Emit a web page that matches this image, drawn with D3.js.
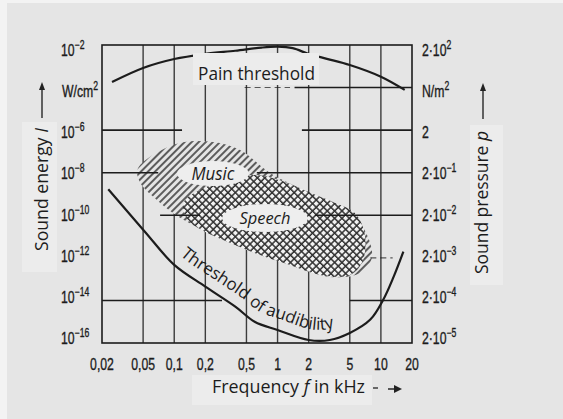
<!DOCTYPE html>
<html><head><meta charset="utf-8">
<script src="https://cdn.jsdelivr.net/npm/d3@7"></script>
<style>
html,body{margin:0;padding:0;background:#f3f3f3;}
svg{display:block;}
</style></head><body>
<svg id="c" width="563" height="419"></svg>
<script>
// ---------- data ----------
const freqTicks  = [0.02, 0.05, 0.1, 0.2, 0.5, 1, 2, 5, 10, 20];
const freqLabels = ["0,02","0,05","0,1","0,2","0,5","1","2","5","10","20"];
const energyExp  = [-2, -4, -6, -8, -10, -12, -14, -16];           // log10 of W/cm²
const leftBase   = ["10","W/cm","10","10","10","10","10","10"];
const leftSup    = ["\u22122","2","\u22126","\u22128","\u221210","\u221212","\u221214","\u221216"];
const rightBase  = ["2\u00b710","N/m","2","2\u00b710","2\u00b710","2\u00b710","2\u00b710","2\u00b710"];
const rightSup   = ["2","2","","\u22121","\u22122","\u22123","\u22124","\u22125"];

// pain threshold: frequency (kHz) and log10 sound energy (W/cm²)
const painFreq = [0.025, 0.05, 0.1, 0.2, 0.39, 0.7, 1.0, 1.4, 2, 3, 5, 10, 17];
const painExp  = [-3.74, -3.08, -2.66, -2.42, -2.27, -2.12, -2.08, -2.15, -2.42, -2.65, -2.94, -3.49, -4.11];

// threshold of audibility
const audFreq = [0.023, 0.052, 0.1, 0.2, 0.39, 0.6, 1.0, 2.0, 3.2, 5, 7.9, 10.5, 13.3, 16.5];
const audExp  = [-8.78, -10.77, -12.33, -13.35, -14.29, -15.0, -15.39, -15.86, -15.86, -15.53, -14.9, -13.98, -12.88, -11.71];

// music area outline
const musicFreq = [0.058, 0.114, 0.237, 0.433, 0.845, 1.54, 2.41, 4.3, 6.7, 8.2, 6.3, 3.2, 1.76, 0.9, 0.54, 0.30, 0.166, 0.097, 0.068, 0.047, 0.044];
const musicExp  = [-7.26, -6.60, -6.56, -6.93, -8.01, -8.67, -9.14, -9.61, -10.55, -11.96, -12.71, -12.9, -12.48, -11.96, -11.40, -11.02, -10.55, -9.89, -9.28, -8.48, -7.87];

// speech area outline
const speechFreq = [0.127, 0.178, 0.31, 0.61, 1.18, 2.0, 3.6, 5.6, 7.0, 6.6, 5.0, 2.58, 1.32, 0.68, 0.35, 0.2, 0.142, 0.122];
const speechExp  = [-9.28, -8.81, -8.34, -8.11, -8.44, -8.91, -9.42, -9.89, -10.93, -12.19, -12.8, -12.8, -12.34, -11.87, -11.30, -10.78, -10.32, -9.75];

// partial horizontal grid segments
const segExp  = [-4, -4, -6, -6, -8, -8, -10, -10, -12, -14, -14];
const segFrom = [0.48, 1.46, 0.02, 1.72, 0.02, 0.63, 0.073, 2.30, 7.9, 0.02, 5.0];
const segTo   = [1.32, 20, 0.119, 20, 0.070, 20, 0.178, 20, 13, 0.29, 20];
const segDash = [true, false, false, false, false, false, false, false, true, false, false];

// ---------- drawing ----------
const BG = "#e5e5e5", LIGHT = "#ececec", INK = "#1c1c1c";
const svg = d3.select("#c");
const x = d3.scaleLog().domain([0.02, 20]).range([102, 412]);
const y = d3.scaleLog().domain([1e-16, 1e-2]).range([343, 45]);
const E = e => Math.pow(10, e);
const ly = d3.scaleLinear().domain([-2, -16]).range([50, 338]);   // label positions

svg.append("rect").attr("x", 7).attr("y", 3).attr("width", 563).attr("height", 419).attr("fill", BG);

const defs = svg.append("defs");
const hatch = defs.append("pattern").attr("id", "hatch").attr("patternUnits", "userSpaceOnUse")
  .attr("width", 5).attr("height", 5).attr("patternTransform", "rotate(45)");
hatch.append("rect").attr("width", 5).attr("height", 5).attr("fill", BG);
hatch.append("line").attr("x1", 1).attr("y1", 0).attr("x2", 1).attr("y2", 5).attr("stroke", "#3a3a3a").attr("stroke-width", 1.6);
const cross = defs.append("pattern").attr("id", "cross").attr("patternUnits", "userSpaceOnUse")
  .attr("width", 5.2).attr("height", 5.2).attr("patternTransform", "rotate(45)");
cross.append("rect").attr("width", 5.2).attr("height", 5.2).attr("fill", "#f2f2f2");
cross.append("line").attr("x1", 1).attr("y1", 0).attr("x2", 1).attr("y2", 5.2).attr("stroke", "#2e2e2e").attr("stroke-width", 1.5);
cross.append("line").attr("x1", 0).attr("y1", 1).attr("x2", 5.2).attr("y2", 1).attr("stroke", "#2e2e2e").attr("stroke-width", 1.5);

// light title backgrounds
svg.append("rect").attr("x", 22).attr("y", 122).attr("width", 35).attr("height", 150).attr("fill", LIGHT);
svg.append("rect").attr("x", 470).attr("y", 125).attr("width", 33).attr("height", 160).attr("fill", LIGHT);
svg.append("rect").attr("x", 192).attr("y", 375).attr("width", 180).attr("height", 30).attr("fill", LIGHT);

// vertical grid
svg.append("g").selectAll("line").data(freqTicks.slice(1, -1)).join("line")
  .attr("x1", d => x(d)).attr("x2", d => x(d)).attr("y1", y(1e-2)).attr("y2", y(1e-16))
  .attr("stroke", "#3c3c3c").attr("stroke-width", 1.4);

// frame
svg.append("rect").attr("x", x(0.02)).attr("y", y(1e-2))
  .attr("width", x(20) - x(0.02)).attr("height", y(1e-16) - y(1e-2))
  .attr("fill", "none").attr("stroke", INK).attr("stroke-width", 1.6);

// regions
const area = d3.line().x(d => x(d[0])).y(d => y(E(d[1]))).curve(d3.curveCatmullRomClosed.alpha(0.5));
svg.append("path").attr("d", area(d3.zip(musicFreq, musicExp))).attr("fill", "url(#hatch)");
svg.append("path").attr("d", area(d3.zip(speechFreq, speechExp))).attr("fill", "url(#cross)");

// horizontal grid segments
svg.append("g").selectAll("line").data(d3.range(segExp.length)).join("line")
  .attr("x1", i => x(segFrom[i])).attr("x2", i => x(segTo[i]))
  .attr("y1", i => y(E(segExp[i]))).attr("y2", i => y(E(segExp[i])))
  .attr("stroke", INK).attr("stroke-width", i => segDash[i] ? 1.1 : 1.6)
  .attr("stroke-dasharray", i => segDash[i] ? "6,4" : null)
  .attr("opacity", i => segDash[i] ? 0.7 : 1);

// curves
const line = d3.line().x(d => x(d[0])).y(d => y(E(d[1]))).curve(d3.curveCatmullRom.alpha(0.5));
svg.append("path").attr("d", line(d3.zip(painFreq, painExp)))
  .attr("fill", "none").attr("stroke", INK).attr("stroke-width", 2.2);
const aud = svg.append("path").attr("d", line(d3.zip(audFreq, audExp)))
  .attr("fill", "none").attr("stroke", INK).attr("stroke-width", 2.2);

// Pain threshold label
svg.append("rect").attr("x", 193).attr("y", 53).attr("width", 126).attr("height", 32).attr("fill", LIGHT);
svg.append("text").attr("x", 198).attr("y", 80).attr("font-family", "Open Sans").attr("font-size", 19)
  .attr("textLength", 117).attr("lengthAdjust", "spacingAndGlyphs").attr("fill", INK).text("Pain threshold");

// Music / Speech ellipses
const musicPos = [0.237, -8.04], speechPos = [0.756, -10.13];
svg.append("ellipse").attr("cx", x(musicPos[0])).attr("cy", y(E(musicPos[1]))).attr("rx", 36).attr("ry", 12.5).attr("fill", "#eeeeee");
svg.append("ellipse").attr("cx", x(speechPos[0])).attr("cy", y(E(speechPos[1]))).attr("rx", 43).attr("ry", 14).attr("fill", "#eeeeee");
svg.append("text").attr("x", x(musicPos[0])).attr("y", y(E(musicPos[1])) + 6).attr("text-anchor", "middle")
  .attr("font-family", "Open Sans").attr("font-style", "italic").attr("font-size", 18)
  .attr("textLength", 43).attr("lengthAdjust", "spacingAndGlyphs").attr("fill", INK).text("Music");
svg.append("text").attr("x", x(speechPos[0])).attr("y", y(E(speechPos[1])) + 6).attr("text-anchor", "middle")
  .attr("font-family", "Open Sans").attr("font-style", "italic").attr("font-size", 17)
  .attr("textLength", 51).attr("lengthAdjust", "spacingAndGlyphs").attr("fill", INK).text("Speech");

// text along threshold of audibility (offset path)
{
  const node = aud.node(), L = node.getTotalLength(), pts = [];
  const off = 11;
  for (let s = 0; s <= L; s += 2) {
    const p = node.getPointAtLength(s), q = node.getPointAtLength(Math.min(L, s + 4)), r = node.getPointAtLength(Math.max(0, s - 4));
    let tx = q.x - r.x, ty = q.y - r.y; const n = Math.hypot(tx, ty) || 1; tx /= n; ty /= n;
    pts.push([p.x + ty * off, p.y - tx * off]);
  }
  defs.append("path").attr("id", "audPath").attr("d", d3.line().curve(d3.curveBasis)(pts));
  let acc = 0, start = 0;
  for (let i = 1; i < pts.length; i++) {
    acc += Math.hypot(pts[i][0] - pts[i-1][0], pts[i][1] - pts[i-1][1]);
    if (pts[i][0] >= 180) { start = acc; break; }
  }
  svg.append("text").attr("font-family", "Open Sans").attr("font-size", 17).attr("fill", INK)
    .append("textPath").attr("href", "#audPath").attr("startOffset", start)
    .attr("textLength", 176).attr("lengthAdjust", "spacingAndGlyphs").text("Threshold of audibility");
}

// tick labels
const tickFont = "Liberation Sans";
function labelGroup(tx, ty, anchor, base, sup) {
  const g = svg.append("g").attr("transform", `translate(${tx},${ty}) scale(0.72,1)`);
  const t = g.append("text").attr("text-anchor", anchor).attr("font-family", tickFont)
    .attr("font-size", 17).attr("fill", INK).attr("stroke", INK).attr("stroke-width", 0.35);
  t.append("tspan").text(base);
  if (sup) t.append("tspan").attr("font-size", 12).attr("dy", -7).text(sup);
}
energyExp.forEach((e, i) => {
  if (i === 1) labelGroup(98, ly(e) + 6, "end", leftBase[i], leftSup[i]);
  else labelGroup(61, ly(e) + 6, "start", leftBase[i], leftSup[i]);
  labelGroup(422, ly(e) + 6, "start", rightBase[i], rightSup[i]);
});
freqTicks.forEach((f, i) => labelGroup(x(f), 370, "middle", freqLabels[i], ""));

// axis titles
const lt = svg.append("text").attr("transform", "translate(48,251) rotate(-90)")
  .attr("font-family", "Open Sans").attr("font-size", 18).attr("fill", INK)
  .attr("textLength", 123).attr("lengthAdjust", "spacingAndGlyphs");
lt.append("tspan").text("Sound energy ");
lt.append("tspan").attr("font-style", "italic").text("I");
const rt = svg.append("text").attr("transform", "translate(488,274) rotate(-90)")
  .attr("font-family", "Open Sans").attr("font-size", 18).attr("fill", INK)
  .attr("textLength", 143).attr("lengthAdjust", "spacingAndGlyphs");
rt.append("tspan").text("Sound pressure ");
rt.append("tspan").attr("font-style", "italic").text("p");
const bt = svg.append("text").attr("x", 212).attr("y", 393)
  .attr("font-family", "Open Sans").attr("font-size", 18).attr("fill", INK)
  .attr("textLength", 153).attr("lengthAdjust", "spacingAndGlyphs");
bt.append("tspan").text("Frequency ");
bt.append("tspan").attr("font-style", "italic").text("f");
bt.append("tspan").text(" in kHz");

// arrows
function arrowUp(ax, y0, y1) {
  svg.append("line").attr("x1", ax).attr("x2", ax).attr("y1", y0).attr("y2", y1 + 6).attr("stroke", "#333").attr("stroke-width", 1.5);
  svg.append("path").attr("d", `M${ax},${y1} L${ax - 3},${y1 + 8} L${ax + 3},${y1 + 8} Z`).attr("fill", "#222");
}
arrowUp(42, 118, 82);
arrowUp(483, 119, 83);
svg.append("line").attr("x1", 373).attr("x2", 378).attr("y1", 388).attr("y2", 388).attr("stroke", "#333").attr("stroke-width", 1.4);
svg.append("line").attr("x1", 388).attr("x2", 394).attr("y1", 389).attr("y2", 389).attr("stroke", "#333").attr("stroke-width", 1.6);
svg.append("path").attr("d", "M394,385 L402,389 L394,393 Z").attr("fill", "#222");
</script>
</body></html>
